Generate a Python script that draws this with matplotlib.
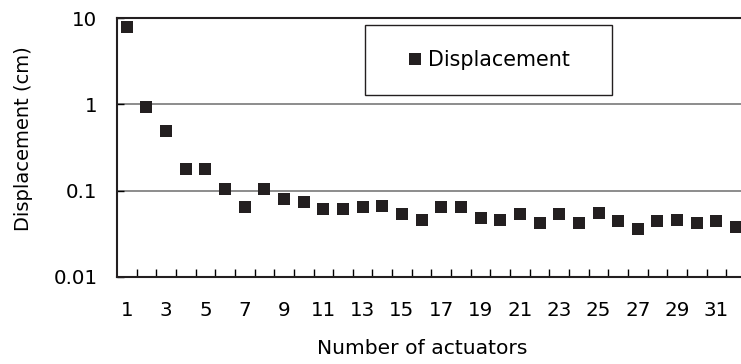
import numpy as np
import matplotlib
matplotlib.use("Agg")
import matplotlib.pyplot as plt
from matplotlib.patches import Rectangle

plt.rcParams['font.family'] = ['DejaVu Sans']

# data
actuators = np.arange(1, 33)
displacement = [7.9, 0.92, 0.49, 0.177, 0.177, 0.104, 0.064, 0.104, 0.081, 0.074,
                0.061, 0.061, 0.064, 0.067, 0.053, 0.046, 0.064, 0.064, 0.048, 0.046,
                0.053, 0.042, 0.053, 0.042, 0.055, 0.044, 0.036, 0.044, 0.046, 0.042,
                0.044, 0.038]
ytick_vals = [0.01, 0.1, 1, 10]
ytick_labels = ['0.01', '0.1', '1', '10']
xtick_vals = list(range(1, 33, 2))

fig = plt.figure(figsize=(7.41, 3.64), dpi=100)
ax = fig.add_axes([117 / 741, 87 / 364, 624 / 741, 259 / 364])

ax.plot(actuators, displacement, 's', color='#231f20', markersize=8.6,
        markeredgewidth=0, label='Displacement', clip_on=False)

ax.set_yscale('log')
ax.set_ylim(0.01, 10)
ax.set_xlim(0.5, 32.25)

# gridlines
for v in [0.1, 1]:
    ax.axhline(v, color='#6e6e6e', lw=1.1, zorder=0)

ax.set_yticks(ytick_vals)
ax.set_yticklabels(ytick_labels)
ax.yaxis.set_minor_locator(matplotlib.ticker.NullLocator())
ax.tick_params(axis='y', which='major', direction='in', length=5, width=1,
               labelsize=14.3, pad=14)

ax.set_xticks(xtick_vals)
ax.set_xticklabels([str(v) for v in xtick_vals])
ax.set_xticks(np.arange(1.5, 32, 1), minor=True)
ax.tick_params(axis='x', which='major', length=0, labelsize=14.3, pad=17)
ax.tick_params(axis='x', which='minor', direction='in', length=6, width=1)

for side in ['left', 'bottom', 'top']:
    ax.spines[side].set_linewidth(1.5)
    ax.spines[side].set_color('#231f20')
ax.spines['right'].set_visible(False)

ax.set_xlabel('Number of actuators', fontsize=14.6)
ax.xaxis.set_label_coords((422 - 117) / 624, -(339 - 277) / 259)
ax.set_ylabel('Displacement (cm)', fontsize=14)
ax.yaxis.set_label_coords(-(117 - 33) / 624, (277 - 138.5) / 259)

# legend box
ax.add_patch(Rectangle((248 / 624, 1 - 77 / 259), 247 / 624, 70 / 259,
                       transform=ax.transAxes, fill=False, edgecolor='#231f20',
                       lw=1, zorder=3))
ax.legend(loc='center', bbox_to_anchor=((248 + 123.5) / 624, 1 - 42 / 259),
          frameon=False, fontsize=14.9, handletextpad=0.2, handlelength=0.8,
          markerscale=0.95)

fig.savefig('out.png', dpi=100)
